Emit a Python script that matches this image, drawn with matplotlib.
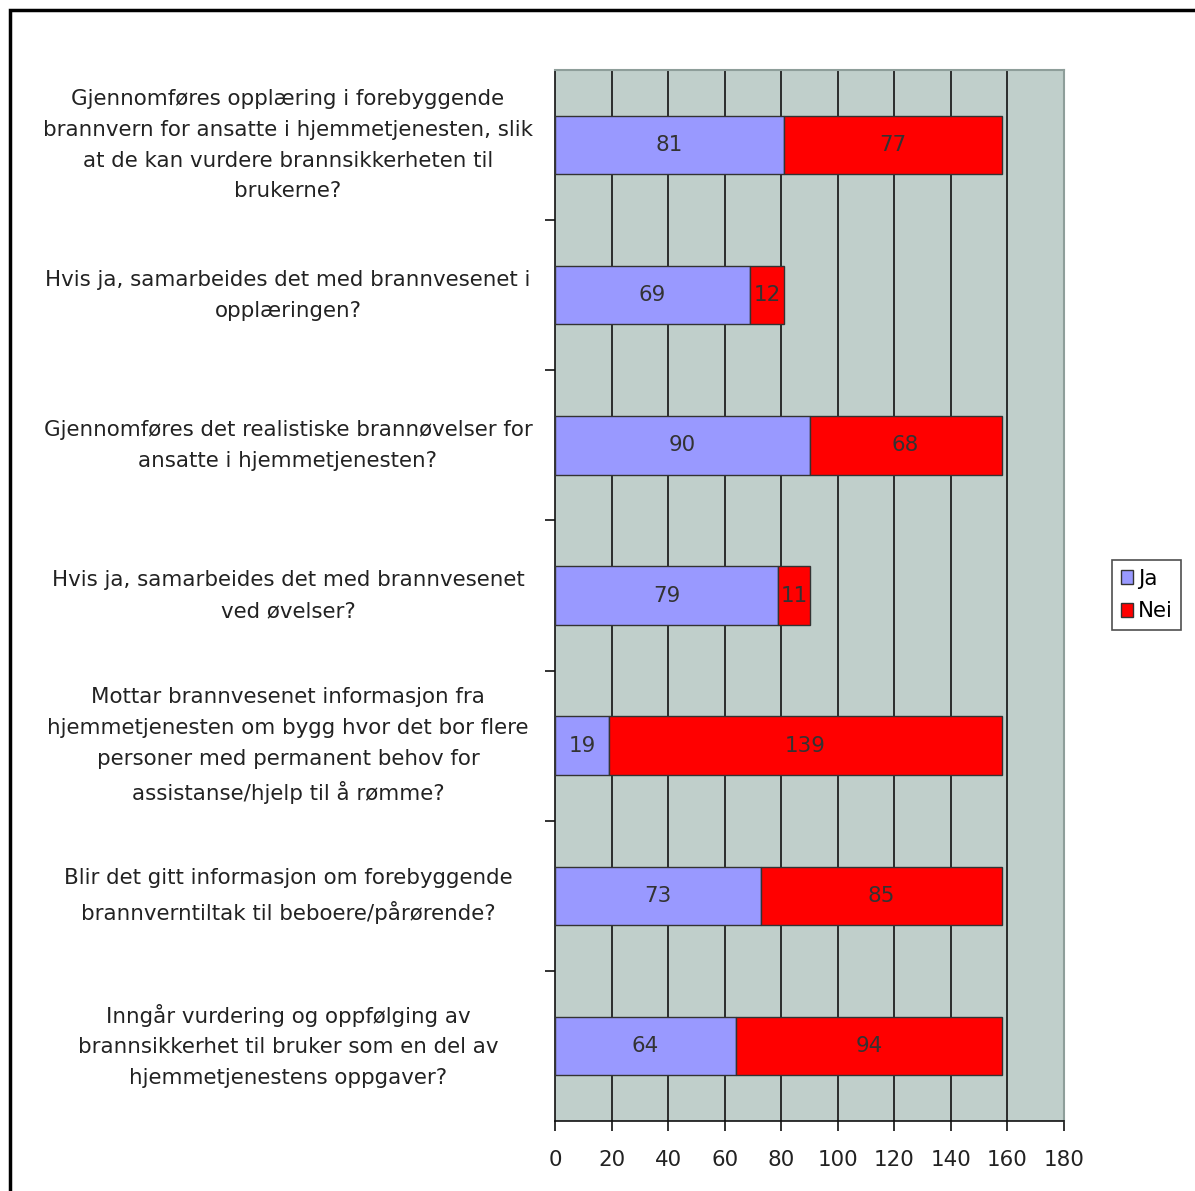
import matplotlib
matplotlib.use("Agg")
import matplotlib.pyplot as plt
from matplotlib.patches import Rectangle, Patch

questions = [
    "Gjennomføres opplæring i forebyggende\nbrannvern for ansatte i hjemmetjenesten, slik\nat de kan vurdere brannsikkerheten til\nbrukerne?",
    "Hvis ja, samarbeides det med brannvesenet i\nopplæringen?",
    "Gjennomføres det realistiske brannøvelser for\nansatte i hjemmetjenesten?",
    "Hvis ja, samarbeides det med brannvesenet\nved øvelser?",
    "Mottar brannvesenet informasjon fra\nhjemmetjenesten om bygg hvor det bor flere\npersoner med permanent behov for\nassistanse/hjelp til å rømme?",
    "Blir det gitt informasjon om forebyggende\nbrannverntiltak til beboere/pårørende?",
    "Inngår vurdering og oppfølging av\nbrannsikkerhet til bruker som en del av\nhjemmetjenestens oppgaver?",
]
ja = [81, 69, 90, 79, 19, 73, 64]
nei = [77, 12, 68, 11, 139, 85, 94]
xticks = [0, 20, 40, 60, 80, 100, 120, 140, 160, 180]

plt.rcParams['font.family'] = ['DejaVu Sans']
FS = 15.4

fig = plt.figure(figsize=(11.95, 11.91), dpi=100)
W, H = 1195, 1191
ax = fig.add_axes([555 / W, 1 - 1121 / H, (1064 - 555) / W, (1121 - 70) / H])
ax.set_facecolor('#C0CFCB')

n = len(questions)
ys = list(range(n))
bh = 0.39
ax.barh(ys, ja, height=bh, color='#9999FF', edgecolor='#333333', linewidth=1, zorder=3, label='Ja')
ax.barh(ys, nei, left=ja, height=bh, color='#FF0000', edgecolor='#333333', linewidth=1, zorder=3, label='Nei')

for i in ys:
    ax.text(ja[i] / 2, i, str(ja[i]), ha='center', va='center', fontsize=FS, color='#333333', zorder=4)
    ax.text(ja[i] + nei[i] / 2, i, str(nei[i]), ha='center', va='center', fontsize=FS, color='#333333', zorder=4)

ax.set_xlim(0, 180)
ax.set_ylim(n - 0.5, -0.5)
ax.set_xticks(xticks)
ax.set_xticklabels([str(t) for t in xticks], fontsize=FS, color='#222222')
for t in xticks[1:-1]:
    ax.axvline(t, color='#111111', linewidth=1.2, zorder=1)

ax.set_yticks([i + 0.5 for i in range(n - 1)])
ax.set_yticklabels([])
ax.tick_params(axis='y', direction='out', length=7, width=1.2, color='#111111')
ax.tick_params(axis='x', direction='out', length=7, width=1.2, color='#111111', pad=14)

for s in ['top', 'right']:
    ax.spines[s].set_color('#8E9E9A')
    ax.spines[s].set_linewidth(1.5)
for s in ['left', 'bottom']:
    ax.spines[s].set_color('#111111')
    ax.spines[s].set_linewidth(1.2)

tr = ax.get_yaxis_transform()
for i, q in enumerate(questions):
    ax.text(-0.5246, i, q, transform=tr, ha='center', va='center', multialignment='center',
            fontsize=FS, color='#222222', linespacing=1.68)

handles = [Patch(facecolor='#9999FF', edgecolor='#333333', label='Ja'),
           Patch(facecolor='#FF0000', edgecolor='#333333', label='Nei')]
leg = fig.legend(handles=handles, loc='center', bbox_to_anchor=(1146.5 / W, 1 - 595 / H),
                 fontsize=FS, frameon=True, fancybox=False, handlelength=0.6, handleheight=0.6,
                 handletextpad=0.2, borderpad=0.4, labelspacing=0.6, borderaxespad=0)
leg.get_frame().set_edgecolor('#222222')
leg.get_frame().set_linewidth(1.2)

fig.patches.append(Rectangle((10 / W, -0.1), 1.2, 1 - 10 / H + 0.1, transform=fig.transFigure,
                             fill=False, edgecolor='black', linewidth=2.5, zorder=0))

fig.savefig('out.png', dpi=100)
